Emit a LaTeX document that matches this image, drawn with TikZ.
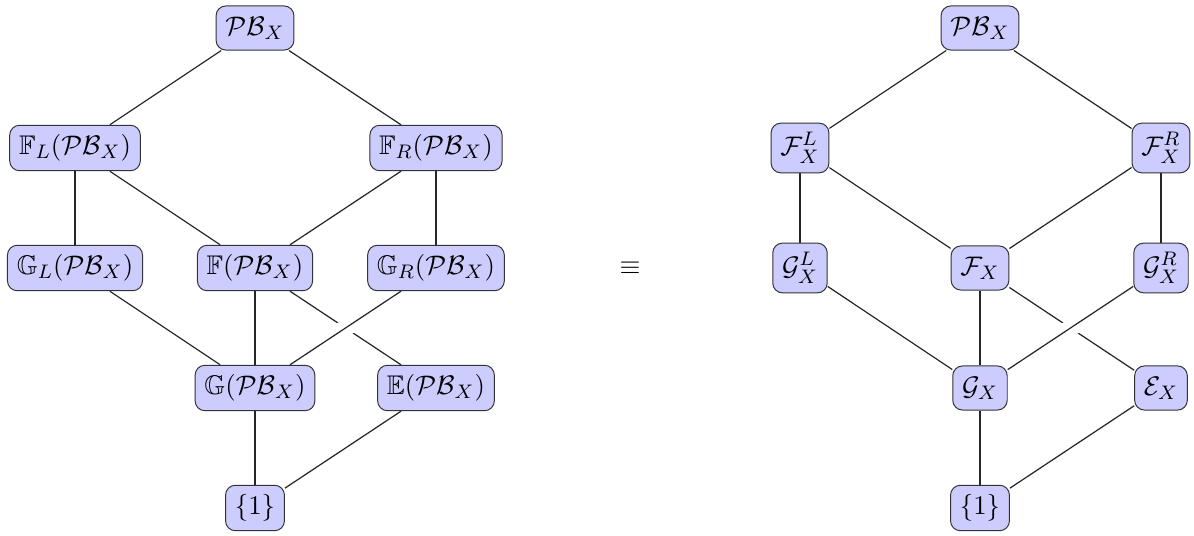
\documentclass[tikz,border=0pt]{standalone}
\usepackage{amssymb}
\usetikzlibrary{backgrounds}
\begin{document}
\begin{tikzpicture}[x=0.01435cm,y=-0.01435cm,
  box/.style={draw=black!80, fill=blue!20, rounded corners=4pt, inner sep=3.8pt, minimum height=18pt, font=\fontsize{11pt}{13pt}\selectfont},
  edge/.style={draw=black!85, line width=0.5pt},
  over/.style={edge, preaction={draw=white, line width=7pt}}]
\useasboundingbox (0,0) rectangle (1194,536);
% left lattice
\node[box] (pb) at (255,28) {$\mathcal{PB}_X$};
\node[box] (fl) at (75,148) {$\mathbb{F}_L(\mathcal{PB}_X)$};
\node[box] (fr) at (436,148) {$\mathbb{F}_R(\mathcal{PB}_X)$};
\node[box] (gl) at (75,268) {$\mathbb{G}_L(\mathcal{PB}_X)$};
\node[box] (f) at (255,268) {$\mathbb{F}(\mathcal{PB}_X)$};
\node[box] (gr) at (436,268) {$\mathbb{G}_R(\mathcal{PB}_X)$};
\node[box] (g) at (255,388) {$\mathbb{G}(\mathcal{PB}_X)$};
\node[box] (e) at (436,388) {$\mathbb{E}(\mathcal{PB}_X)$};
\node[box] (one) at (255,508) {$\{1\}$};
% equivalence
\node[font=\fontsize{11pt}{13pt}\selectfont] (eq) at (630,268) {$\equiv$};
% right lattice
\node[box] (rpb) at (980,28) {$\mathcal{PB}_X$};
\node[box] (rfl) at (800,148) {$\mathcal{F}^L_X$};
\node[box] (rfr) at (1161,148) {$\mathcal{F}^R_X$};
\node[box] (rgl) at (800,268) {$\mathcal{G}^L_X$};
\node[box] (rf) at (980,268) {$\mathcal{F}_X$};
\node[box] (rgr) at (1161,268) {$\mathcal{G}^R_X$};
\node[box] (rg) at (980,388) {$\mathcal{G}_X$};
\node[box] (re) at (1161,388) {$\mathcal{E}_X$};
\node[box] (rone) at (980,508) {$\{1\}$};
\begin{scope}[on background layer]
\draw[edge] (pb) -- (fl);
\draw[edge] (pb) -- (fr);
\draw[edge] (fl) -- (gl);
\draw[edge] (fl) -- (f);
\draw[edge] (fr) -- (f);
\draw[edge] (fr) -- (gr);
\draw[edge] (gl) -- (g);
\draw[edge] (f) -- (g);
\draw[edge] (f) -- (e);
\draw[over] (gr) -- (g);
\draw[edge] (g) -- (one);
\draw[edge] (e) -- (one);
\draw[edge] (rpb) -- (rfl);
\draw[edge] (rpb) -- (rfr);
\draw[edge] (rfl) -- (rgl);
\draw[edge] (rfl) -- (rf);
\draw[edge] (rfr) -- (rf);
\draw[edge] (rfr) -- (rgr);
\draw[edge] (rgl) -- (rg);
\draw[edge] (rf) -- (rg);
\draw[edge] (rf) -- (re);
\draw[over] (rgr) -- (rg);
\draw[edge] (rg) -- (rone);
\draw[edge] (re) -- (rone);
\end{scope}
\end{tikzpicture}
\end{document}
